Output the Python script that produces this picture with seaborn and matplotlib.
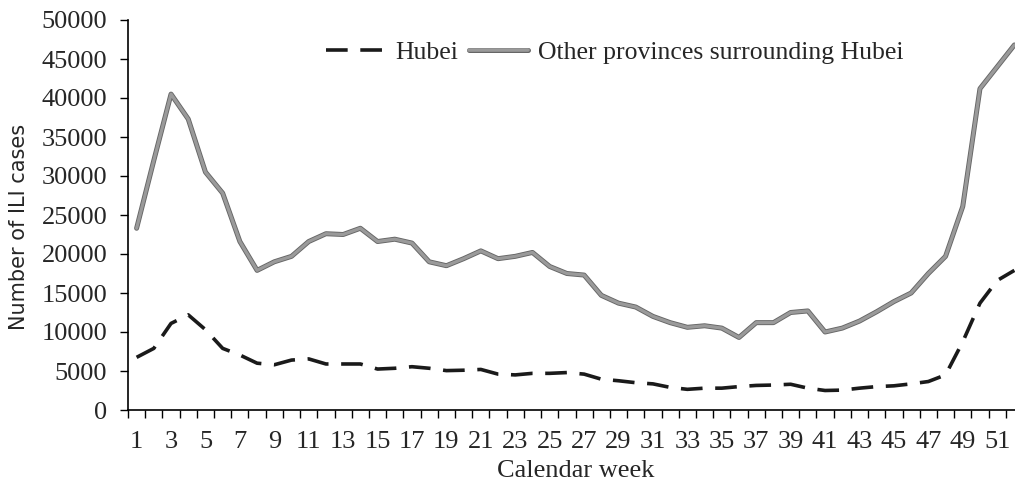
import numpy as np
import pandas as pd
import seaborn as sns
import matplotlib.pyplot as plt
import matplotlib.patheffects as pe

# Weekly ILI case counts
weeks = list(range(1, 53))
hubei = [6750, 7900, 11100, 12200, 10300, 7900, 7050, 6000, 5800, 6400,
         6550, 5900, 5900, 5900, 5250, 5350, 5550, 5350, 5050, 5100,
         5200, 4600, 4500, 4700, 4700, 4800, 4600, 3950, 3750, 3500,
         3350, 2900, 2650, 2800, 2800, 3000, 3150, 3200, 3300, 2800,
         2500, 2550, 2800, 3000, 3100, 3350, 3650, 4500, 8750, 13700,
         16600, 17900]
others = [23300, 32000, 40500, 37300, 30500, 27800, 21600, 17900, 19000, 19700,
          21600, 22600, 22500, 23300, 21600, 21900, 21400, 19000, 18500, 19400,
          20400, 19400, 19700, 20200, 18400, 17500, 17300, 14700, 13700, 13200,
          12000, 11200, 10600, 10800, 10500, 9300, 11200, 11200, 12500, 12700,
          10000, 10500, 11400, 12600, 13900, 15000, 17500, 19700, 26100, 41200,
          44000, 46800]
series_names = ["Hubei", "Other provinces surrounding Hubei"]
y_ticks = list(range(0, 50001, 5000))
x_labels = list(range(1, 52, 2))

df = pd.DataFrame({
    "week": weeks * 2,
    "cases": hubei + others,
    "region": [series_names[0]] * len(weeks) + [series_names[1]] * len(weeks),
})

sns.set_style("ticks")
plt.rcParams["font.family"] = ["Liberation Serif", "DejaVu Serif"]

fig = plt.figure(figsize=(10.15, 4.86), dpi=100)
ax = fig.add_axes([128 / 1015, 76 / 486, 895 / 1015, 390 / 486])

sns.lineplot(data=df, x="week", y="cases", hue="region", style="region",
             palette={series_names[0]: "#1a1a1a", series_names[1]: "#9a9a9a"},
             dashes={series_names[0]: (6, 3.5), series_names[1]: ""},
             linewidth=2.6, ax=ax)

# gray line in the reference has a darker rim
rim = [pe.Stroke(linewidth=3.6, foreground="#666666"), pe.Normal()]
ax.lines[1].set_linewidth(2.3)
ax.lines[1].set_path_effects(rim)

ax.set_xlim(0.5, 52.5)
ax.set_ylim(0, 50000)
ax.set_yticks(y_ticks)
ax.set_yticklabels([str(v) for v in y_ticks], fontsize=19)
ax.set_xticks(x_labels)
ax.set_xticklabels([str(v) for v in x_labels], fontsize=19)
ax.set_xticks(np.arange(0.5, 53, 1), minor=True)
ax.tick_params(axis="x", which="major", length=0, pad=15)
ax.tick_params(axis="x", which="minor", length=6, width=1, color="black")
ax.tick_params(axis="y", which="major", length=6, width=1, color="black", pad=9)

for s in ["top", "right"]:
    ax.spines[s].set_visible(False)
for s in ["left", "bottom"]:
    ax.spines[s].set_color("black")
    ax.spines[s].set_linewidth(1.2)

ax.set_xlabel("Calendar week", fontsize=19)
ax.xaxis.set_label_coords(0.5, -0.128)
ax.set_ylabel("Number of ILI cases", fontsize=15, family=["DejaVu Sans"])
ax.yaxis.set_label_coords(-0.111, 0.47)

leg = ax.legend(loc="upper center", bbox_to_anchor=(0.544, 1.005), ncol=2, frameon=False,
                fontsize=18.5, handlelength=2.3, handletextpad=0.4, columnspacing=0.4)
leg.get_lines()[1].set_path_effects(rim)

fig.savefig("out.png", dpi=100)
